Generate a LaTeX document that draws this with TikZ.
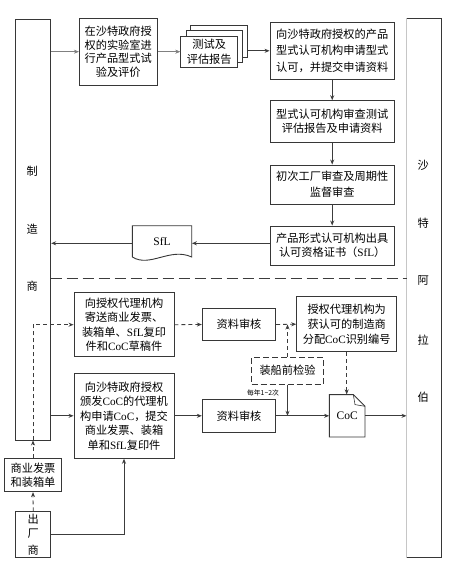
\documentclass[tikz,border=0pt]{standalone}
\usepackage{fontspec}
\setmainfont{Liberation Serif}
\newfontfamily\cjk{Noto Sans CJK SC}
\usetikzlibrary{arrows.meta}
\definecolor{boxc}{RGB}{55,55,55}
\definecolor{linec}{RGB}{60,60,60}
\tikzset{
  box/.style={draw=boxc, line width=0.9pt, fill=white, inner sep=0pt, align=center,
    font=\cjk\fontsize{11.2}{14.5}\selectfont},
  plain/.style={inner sep=0pt, font=\cjk\fontsize{11.2}{14.5}\selectfont},
  arr/.style={-{Stealth[length=5pt,width=4pt]}, line width=0.8pt, draw=linec},
  thinarr/.style={arr, line width=0.45pt, draw=gray},
  thickarr/.style={arr, line width=1.3pt},
  dsharr/.style={arr, dash pattern=on 4pt off 3pt},
  divider/.style={line width=1pt, draw=linec, dash pattern=on 11pt off 5pt},
}
\newcommand{\lat}[1]{{\rmfamily #1}}
\begin{document}
\begin{tikzpicture}[x=1pt,y=-1pt]
\useasboundingbox (0,0) rectangle (463,569);
\fill[white] (0,0) rectangle (463,569);

% columns
\node[box, minimum width=35pt, minimum height=421pt] (colL) at (33.2,229.5) {};
\node[inner sep=0pt, minimum width=35pt, minimum height=539pt] (colR) at (424.2,287.8) {};
\draw[boxc, line width=0.9pt] (colR.north west) -- (colR.north east) -- (colR.south east) -- (colR.south west);
\draw[gray!45, line width=0.8pt] (colR.north west) -- (colR.south west);

\node[plain] (m1) at (32.3,171.7) {制};
\node[plain] (m2) at (32.3,229) {造};
\node[plain] (m3) at (32.3,286.7) {商};
\node[plain] (s1) at (423.3,165) {沙};
\node[plain] (s2) at (423.3,223) {特};
\node[plain] (s3) at (423.3,280) {阿};
\node[plain] (s4) at (423.3,340) {拉};
\node[plain] (s5) at (423.3,397) {伯};

% upper flow
\node[box, minimum width=77.7pt, minimum height=66.7pt, font=\cjk\fontsize{11.2}{13.8}\selectfont] (b1) at (118.2,51.7)
  {在沙特政府授\\权的实验室进\\行产品型式试\\验及评价};
\node[box, minimum width=56.6pt, minimum height=32.3pt] (d3) at (219,41.2) {};
\node[box, minimum width=56.3pt, minimum height=32pt] (d2) at (214.2,46.7) {};
\node[box, minimum width=57pt, minimum height=31.7pt, font=\cjk\fontsize{11.2}{15}\selectfont] (d1) at (209.2,51.85) {测试及\\评估报告};

\node[box, minimum width=124.3pt, minimum height=57pt, font=\cjk\fontsize{11.2}{16.5}\selectfont] (b2) at (332.2,50.8)
  {向沙特政府授权的产品\\型式认可机构申请型式\\认可，并提交申请资料};
\node[box, minimum width=124.3pt, minimum height=41.6pt] (b3) at (332.2,121.5)
  {型式认可机构审查测试\\评估报告及申请资料};
\node[box, minimum width=124.3pt, minimum height=39pt, font=\cjk\fontsize{11.2}{16}\selectfont] (b4) at (332.2,184.5)
  {初次工厂审查及周期性\\监督审查};
\node[box, minimum width=124.3pt, minimum height=39pt] (b5) at (332.2,245.5)
  {产品形式认可机构出具\\认可资格证书（\lat{SfL}）};

% SfL document
\draw[boxc, line width=0.9pt] (132.3,257) -- (132.3,225.7) -- (191.7,225.7) -- (191.7,257)
  .. controls (170,247) and (150,268) .. (132.3,257);
\node[inner sep=0pt, minimum width=59.4pt, minimum height=35.2pt, font=\rmfamily\fontsize{11.5}{13}\selectfont] (sfl) at (162,243.3) {\raisebox{3pt}{SfL}};

\draw[thinarr] (colL.east |- b1.west) -- (b1.west);
\draw[thinarr] (b1.east) -- (b1.east -| d1.west);
\draw[arr] (d3.east |- b2.west) -- (b2.west);
\draw[thickarr] (b2.south) -- (b3.north);
\draw[thickarr] (b3.south) -- (b4.north);
\draw[thickarr] (b4.south) -- (b5.north);
\draw[thickarr] (b5.west |- sfl.east) -- (sfl.east);
\draw[thickarr] (sfl.west) -- (sfl.west -| colL.east);

% divider
\coordinate (dvL) at (50.7,278.3);
\coordinate (dvR) at (406.7,278.3);
\draw[divider] (dvL) -- (dvR);

% lower flow
\node[box, minimum width=100pt, minimum height=64pt] (b6) at (124,324.7)
  {向授权代理机构\\寄送商业发票、\\装箱单、\lat{SfL}复印\\件和\lat{CoC}草稿件};
\node[box, minimum width=73.4pt, minimum height=32.7pt] (r1) at (239,324.5) {资料审核};
\node[box, minimum width=100pt, minimum height=55pt, font=\cjk\fontsize{11.2}{15}\selectfont] (b7) at (346.7,324.2)
  {授权代理机构为\\获认可的制造商\\分配\lat{CoC}识别编号};
\node[box, dash pattern=on 6pt off 3pt, minimum width=71.6pt, minimum height=26.7pt] (insp) at (287.5,370.7) {装船前检验};
\node[box, minimum width=100pt, minimum height=85pt] (b8) at (124,415.8)
  {向沙特政府授权\\颁发\lat{CoC}的代理机\\构申请\lat{CoC}，提交\\商业发票、装箱\\单和\lat{SfL}复印件};
\node[box, minimum width=73.4pt, minimum height=32.4pt] (r2) at (239,415.8) {资料审核};

% CoC document
\draw[boxc, line width=0.9pt, fill=white] (329.3,394.6) -- (353.3,394.6) -- (365,406.3) -- (365,437) -- (329.3,437) -- cycle;
\draw[boxc, line width=0.6pt] (353.3,394.6) -- (355,404.6) -- (365,406.3);
\node[inner sep=0pt, minimum width=35.7pt, minimum height=42.4pt, font=\rmfamily\fontsize{11.5}{13}\selectfont] (coc) at (347.2,415.8) {\raisebox{-5pt}{CoC}};

\node[box, minimum width=57.4pt, minimum height=33.4pt] (inv) at (33,475) {商业发票\\和装箱单};
\node[box, minimum width=35pt, minimum height=46pt] (fac) at (33.2,534.7) {};
\node[plain] (f1) at (33.2,519) {出};
\node[plain] (f2) at (33.2,534) {厂};
\node[plain] (f3) at (33.2,550) {商};

\node[inner sep=0pt, font=\cjk\fontsize{6.8}{8}\selectfont] (freq) at (263,392.5) {每年1\textasciitilde 2次};

% lower connectors
\draw[dsharr] (colL.south) -- (colL.south |- b6.west) -- (b6.west);
\draw[dsharr] (inv.north) -- (inv.north |- colL.south);
\draw[dsharr] (fac.north) -- (inv.south);
\draw[dsharr] (b6.east) -- (r1.west);
\draw[dsharr] (r1.east) -- (b7.west);
\draw[dsharr] (insp.north) -- (insp.north |- r1.east);
\draw[dsharr] (b7.south) -- (b7.south |- coc.north);
\draw[arr] (colL.east |- b8.west) -- (b8.west);
\draw[arr] (b8.east) -- (r2.west);
\draw[arr] (r2.east) -- (coc.west);
\draw[arr] (insp.south) -- (insp.south |- r2.east);
\draw[arr] (coc.east) -- (coc.east -| colR.west);
\draw[arr] (fac.east) -| (b8.south);
\end{tikzpicture}
\end{document}
